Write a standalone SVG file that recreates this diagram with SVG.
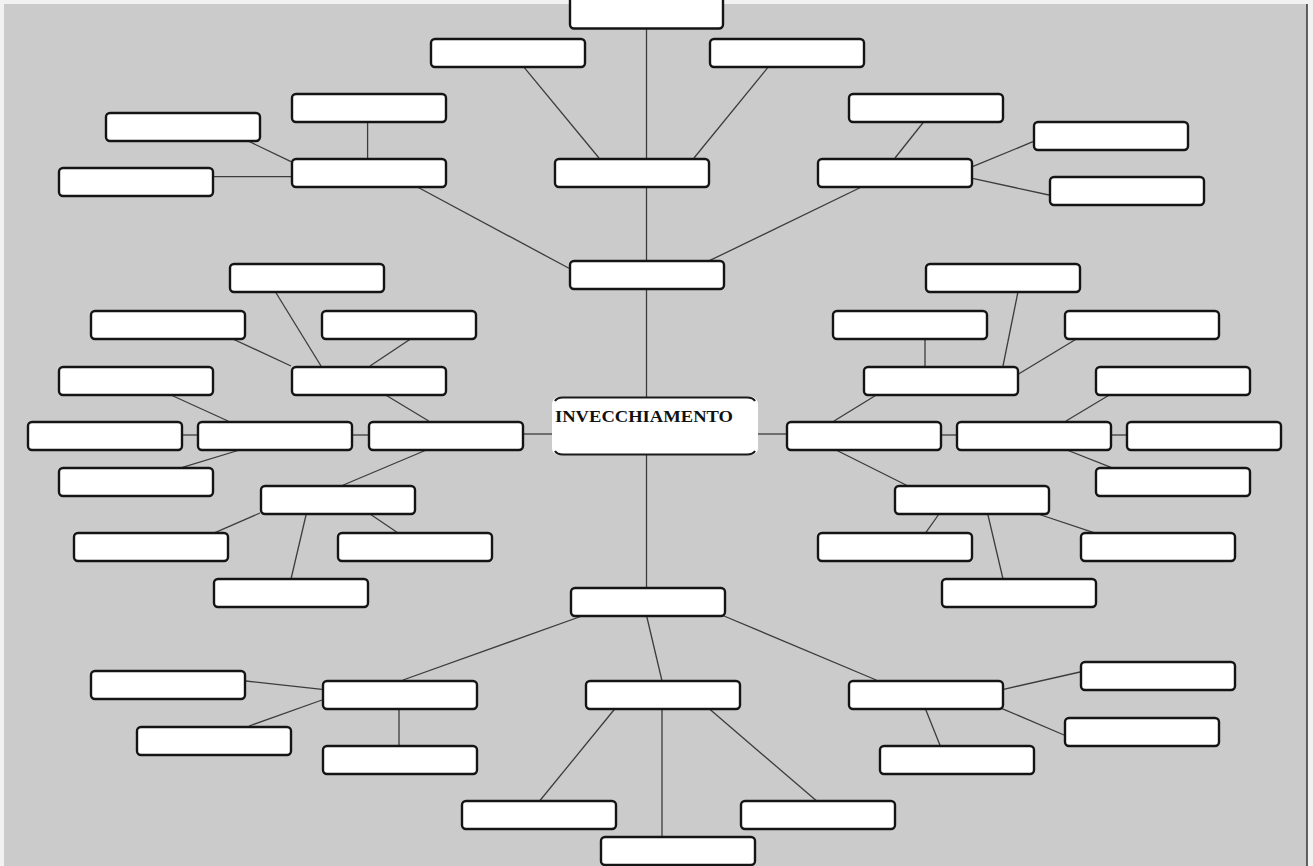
<svg xmlns="http://www.w3.org/2000/svg" width="1313" height="866" viewBox="0 0 1313 866">
  <style>
    .box { fill: #ffffff; stroke: #141414; stroke-width: 2.4; }
    .edge { stroke: #3c3c3c; stroke-width: 1.3; fill: none; }
    .title { font-family: "Liberation Serif", "DejaVu Serif", serif; font-weight: bold; font-size: 16.5px; fill: #111; }
  </style>
  <defs>
    <rect id="slot" width="154" height="28" rx="4" ry="4"/>
  </defs>

  <!-- canvas -->
  <rect x="0" y="0" width="1313" height="866" fill="#f2f2f2"/>
  <rect x="4" y="4" width="1303" height="862" fill="#cbcbcb"/>
  <line x1="1307" y1="4" x2="1307" y2="866" stroke="#333" stroke-width="1.5"/>

  <!-- connectors -->
  <g id="connectors" class="edge">
    <line x1="646.5" y1="29" x2="646.5" y2="587"/>
    <!-- upper branch -->
    <line x1="523.5" y1="66.7" x2="599" y2="158"/>
    <line x1="768.5" y1="66.7" x2="694" y2="158"/>
    <line x1="367.6" y1="122" x2="367.6" y2="158"/>
    <line x1="246" y1="140" x2="291" y2="161.7"/>
    <line x1="213.4" y1="176.7" x2="291" y2="176.7"/>
    <line x1="417.4" y1="187" x2="569" y2="268.3"/>
    <line x1="923.6" y1="122" x2="895" y2="158"/>
    <line x1="972.5" y1="166.7" x2="1033" y2="141.7"/>
    <line x1="972.5" y1="178.3" x2="1049" y2="195"/>
    <line x1="861.5" y1="187" x2="709.4" y2="260.7"/>
    <!-- left branch -->
    <line x1="522.7" y1="434" x2="552" y2="434"/>
    <line x1="275.5" y1="292" x2="321" y2="366"/>
    <line x1="230.7" y1="338" x2="291" y2="366"/>
    <line x1="412" y1="338" x2="370" y2="366"/>
    <line x1="384" y1="394" x2="428.7" y2="421"/>
    <line x1="168.7" y1="394" x2="228" y2="421"/>
    <line x1="182" y1="435" x2="197" y2="435"/>
    <line x1="352" y1="435" x2="368" y2="435"/>
    <line x1="242.8" y1="449" x2="182.5" y2="467.3"/>
    <line x1="428.7" y1="449" x2="341" y2="486"/>
    <line x1="260" y1="513" x2="215" y2="532.7"/>
    <line x1="306.5" y1="513" x2="291" y2="579"/>
    <line x1="368.5" y1="513" x2="397.7" y2="532.7"/>
    <!-- right branch -->
    <line x1="757" y1="434" x2="786" y2="434"/>
    <line x1="1018" y1="291.7" x2="1003" y2="366"/>
    <line x1="925" y1="338" x2="925" y2="366"/>
    <line x1="1078" y1="338" x2="1018.6" y2="374"/>
    <line x1="878" y1="394" x2="834" y2="421"/>
    <line x1="1111" y1="394" x2="1066" y2="421"/>
    <line x1="940" y1="435" x2="956" y2="435"/>
    <line x1="1110" y1="435" x2="1127" y2="435"/>
    <line x1="834" y1="449" x2="908" y2="486"/>
    <line x1="1064.4" y1="449" x2="1111" y2="467.3"/>
    <line x1="939.7" y1="513" x2="925.8" y2="532.7"/>
    <line x1="987.5" y1="513" x2="1003" y2="579"/>
    <line x1="1035" y1="513" x2="1093.8" y2="532.7"/>
    <!-- lower branch -->
    <line x1="582" y1="616" x2="403" y2="680"/>
    <line x1="245.8" y1="681" x2="322" y2="689.3"/>
    <line x1="249" y1="726" x2="322" y2="700"/>
    <line x1="399" y1="708" x2="399" y2="746"/>
    <line x1="646.4" y1="615" x2="661.8" y2="680"/>
    <line x1="614.7" y1="709" x2="539.6" y2="801"/>
    <line x1="662" y1="709" x2="662" y2="838"/>
    <line x1="724" y1="616" x2="876.2" y2="680"/>
    <line x1="1003.5" y1="689.3" x2="1080" y2="672"/>
    <line x1="1001.5" y1="708.3" x2="1064" y2="735"/>
    <line x1="925.2" y1="708.3" x2="940.3" y2="746"/>
    <line x1="709.8" y1="709.3" x2="816.7" y2="801"/>
  </g>

  <!-- central concept -->
  <g id="center">
    <rect x="552" y="397" width="206" height="58" rx="7" ry="7" fill="#ffffff"/>
    <path d="M555,401 Q557,397.5 563,397.5 H747 Q753,397.5 755,401" fill="none" stroke="#1a1a1a" stroke-width="2.2"/>
    <path d="M555,451 Q557,454.5 563,454.5 H747 Q753,454.5 755,451" fill="none" stroke="#1a1a1a" stroke-width="2.2"/>
    <text class="title" x="555" y="421.5" textLength="178" lengthAdjust="spacingAndGlyphs">INVECCHIAMENTO</text>
  </g>

  <!-- upper branch -->
  <g id="n-top-0"><rect class="box" x="570" y="-10" width="153" height="38.5" rx="4"/></g>
  <g id="n-top-1"><use href="#slot" class="box" x="431" y="39"/></g>
  <g id="n-top-2"><use href="#slot" class="box" x="710" y="39"/></g>
  <g id="n-top-3"><use href="#slot" class="box" x="555" y="159"/></g>
  <g id="n-top-4"><use href="#slot" class="box" x="292" y="94"/></g>
  <g id="n-top-5"><use href="#slot" class="box" x="106" y="113"/></g>
  <g id="n-top-6"><use href="#slot" class="box" x="59" y="168"/></g>
  <g id="n-top-7"><use href="#slot" class="box" x="292" y="159"/></g>
  <g id="n-top-8"><use href="#slot" class="box" x="849" y="94"/></g>
  <g id="n-top-9"><use href="#slot" class="box" x="818" y="159"/></g>
  <g id="n-top-10"><use href="#slot" class="box" x="1034" y="122"/></g>
  <g id="n-top-11"><use href="#slot" class="box" x="1050" y="177"/></g>
  <g id="n-top-hub"><use href="#slot" class="box" x="570" y="261"/></g>

  <!-- left branch -->
  <g id="n-left-1"><use href="#slot" class="box" x="230" y="264"/></g>
  <g id="n-left-2"><use href="#slot" class="box" x="91" y="311"/></g>
  <g id="n-left-3"><use href="#slot" class="box" x="322" y="311"/></g>
  <g id="n-left-4"><use href="#slot" class="box" x="292" y="367"/></g>
  <g id="n-left-5"><use href="#slot" class="box" x="59" y="367"/></g>
  <g id="n-left-6"><use href="#slot" class="box" x="28" y="422"/></g>
  <g id="n-left-7"><use href="#slot" class="box" x="198" y="422"/></g>
  <g id="n-left-hub"><use href="#slot" class="box" x="369" y="422"/></g>
  <g id="n-left-9"><use href="#slot" class="box" x="59" y="468"/></g>
  <g id="n-left-10"><use href="#slot" class="box" x="261" y="486"/></g>
  <g id="n-left-11"><use href="#slot" class="box" x="74" y="533"/></g>
  <g id="n-left-12"><use href="#slot" class="box" x="338" y="533"/></g>
  <g id="n-left-13"><use href="#slot" class="box" x="214" y="579"/></g>

  <!-- right branch -->
  <g id="n-right-1"><use href="#slot" class="box" x="926" y="264"/></g>
  <g id="n-right-2"><use href="#slot" class="box" x="833" y="311"/></g>
  <g id="n-right-3"><use href="#slot" class="box" x="1065" y="311"/></g>
  <g id="n-right-4"><use href="#slot" class="box" x="864" y="367"/></g>
  <g id="n-right-5"><use href="#slot" class="box" x="1096" y="367"/></g>
  <g id="n-right-hub"><use href="#slot" class="box" x="787" y="422"/></g>
  <g id="n-right-7"><use href="#slot" class="box" x="957" y="422"/></g>
  <g id="n-right-8"><use href="#slot" class="box" x="1127" y="422"/></g>
  <g id="n-right-9"><use href="#slot" class="box" x="1096" y="468"/></g>
  <g id="n-right-10"><use href="#slot" class="box" x="895" y="486"/></g>
  <g id="n-right-11"><use href="#slot" class="box" x="818" y="533"/></g>
  <g id="n-right-12"><use href="#slot" class="box" x="1081" y="533"/></g>
  <g id="n-right-13"><use href="#slot" class="box" x="942" y="579"/></g>

  <!-- lower branch -->
  <g id="n-bottom-hub"><use href="#slot" class="box" x="571" y="588"/></g>
  <g id="n-bottom-1"><use href="#slot" class="box" x="91" y="671"/></g>
  <g id="n-bottom-2"><use href="#slot" class="box" x="323" y="681"/></g>
  <g id="n-bottom-3"><use href="#slot" class="box" x="137" y="727"/></g>
  <g id="n-bottom-4"><use href="#slot" class="box" x="323" y="746"/></g>
  <g id="n-bottom-5"><use href="#slot" class="box" x="586" y="681"/></g>
  <g id="n-bottom-6"><use href="#slot" class="box" x="849" y="681"/></g>
  <g id="n-bottom-7"><use href="#slot" class="box" x="1081" y="662"/></g>
  <g id="n-bottom-8"><use href="#slot" class="box" x="1065" y="718"/></g>
  <g id="n-bottom-9"><use href="#slot" class="box" x="880" y="746"/></g>
  <g id="n-bottom-10"><use href="#slot" class="box" x="462" y="801"/></g>
  <g id="n-bottom-11"><use href="#slot" class="box" x="741" y="801"/></g>
  <g id="n-bottom-12"><use href="#slot" class="box" x="601" y="837"/></g>
</svg>
